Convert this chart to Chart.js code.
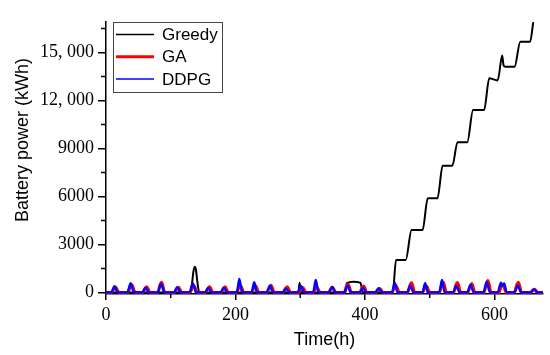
<!DOCTYPE html>
<html lang="en">
  <head>
    <meta charset="UTF-8" />
    <title>Battery power over time</title>
    <style>
      html,
      body {
        margin: 0;
        padding: 0;
        background: #ffffff;
      }
      #chart {
        display: block;
      }
    </style>
  </head>

  <body>
    <canvas id="chart" width="550" height="355"></canvas>

    <script src="https://cdn.jsdelivr.net/npm/chart.js@4.4.1/dist/chart.umd.min.js"></script>

    <script>
      // series (hours, kWh)
      var greedyTime = [
        0, 130, 133, 135, 137, 139, 141, 144, 297, 299, 301, 370, 372, 382,
        393, 397, 443, 448, 463, 472, 489, 497, 512, 520, 535, 543, 558, 567,
        584, 592, 605, 612, 614, 617, 631, 640, 655, 660,
      ];
      var greedyPower = [
        0, 0, 600, 1300, 1610, 1400, 700, 0, 0, 600, 0, 0, 580, 670, 600, 0,
        0, 2030, 2030, 3900, 3900, 5880, 5880, 7920, 7920, 9390, 9390, 11400,
        11400, 13380, 13250, 14800, 14200, 14100, 14100, 15670, 15670, 16890,
      ];

      var gaTime = [
        0, 9, 12, 15, 20, 34, 37, 40, 45, 57, 60, 63, 68, 80, 83, 86, 91, 106,
        109, 112, 117, 130, 133, 136, 141, 154, 157, 160, 165, 178, 181, 184,
        189, 202, 205, 208, 213, 225, 228, 231, 236, 249, 252, 255, 260, 274,
        277, 280, 285, 298, 301, 304, 309, 320, 323, 326, 331, 344, 347, 350,
        355, 368, 371, 374, 379, 392, 395, 398, 403, 417, 420, 423, 428, 442,
        445, 448, 453, 466, 469, 472, 477, 489, 492, 495, 500, 515, 518, 521,
        526, 537, 540, 543, 548, 559, 562, 565, 570, 584, 587, 590, 595, 607,
        610, 613, 618, 631, 634, 637, 642, 656, 659, 662, 667, 675,
      ];
      var gaPower = [
        0, 0, 220, 330, 0, 0, 320, 480, 0, 0, 240, 360, 0, 0, 420, 640, 0, 0,
        210, 320, 0, 0, 280, 420, 0, 0, 230, 350, 0, 0, 240, 360, 0, 0, 280,
        420, 0, 0, 280, 420, 0, 0, 300, 450, 0, 0, 240, 360, 0, 0, 200, 300,
        0, 0, 200, 300, 0, 0, 210, 320, 0, 0, 350, 530, 0, 0, 260, 400, 0, 0,
        170, 250, 0, 0, 280, 420, 0, 0, 400, 600, 0, 0, 260, 400, 0, 0, 420,
        640, 0, 0, 410, 625, 0, 0, 360, 550, 0, 0, 490, 740, 0, 0, 330, 500,
        0, 0, 420, 640, 0, 0, 130, 200, 0, 0,
      ];

      var ddpgTime = [
        0, 8, 11, 13, 18, 33, 36, 38, 43, 56, 59, 61, 66, 80, 83, 85, 90, 105,
        108, 110, 115, 129, 132, 134, 139, 153, 156, 158, 163, 177, 180, 182,
        187, 202, 204, 206, 210, 225, 227, 229, 233, 248, 251, 253, 258, 273,
        276, 278, 283, 296, 299, 301, 306, 320, 322, 324, 328, 344, 347, 349,
        354, 368, 371, 373, 378, 392, 395, 397, 402, 416, 419, 421, 426, 442,
        444, 446, 450, 465, 468, 470, 475, 489, 491, 493, 497, 515, 517, 519,
        523, 536, 539, 541, 546, 558, 561, 563, 568, 583, 586, 588, 593, 605,
        608, 610, 612, 615, 619, 631, 634, 636, 641, 656, 659, 661, 666, 675,
      ];
      var ddpgPower = [
        0, 0, 230, 380, 0, 0, 350, 580, 0, 0, 180, 300, 0, 0, 330, 550, 0, 0,
        200, 330, 0, 0, 340, 560, 0, 0, 170, 280, 0, 0, 180, 300, 0, 0, 400,
        840, 0, 0, 330, 640, 0, 0, 250, 420, 0, 0, 150, 250, 0, 0, 240, 400,
        0, 0, 380, 780, 0, 0, 200, 340, 0, 0, 250, 420, 0, 0, 170, 280, 0, 0,
        160, 260, 0, 0, 330, 600, 0, 0, 250, 420, 0, 0, 320, 580, 0, 0, 400,
        780, 0, 0, 240, 400, 0, 0, 280, 460, 0, 0, 400, 650, 0, 0, 380, 600,
        420, 560, 0, 0, 260, 430, 0, 0, 120, 180, 0, 0,
      ];

      var seriesNames = ["Greedy", "GA", "DDPG"];

      var xTicks = [0, 200, 400, 600];
      var xMinorTicks = [100, 300, 500];
      var yTicks = [0, 3000, 6000, 9000, 12000, 15000];
      var yTickLabels = ["0", "3000", "6000", "9000", "12, 000", "15, 000"];
      var yMinorTicks = [1500, 4500, 7500, 10500, 13500, 16500];

      function toPoints(times, values) {
        return times.map(function (t, i) {
          return { x: t, y: values[i] };
        });
      }

      var serifFont = "'Liberation Serif', 'Times New Roman', serif";
      var sansFont = "'Liberation Sans', Arial, sans-serif";

      // minor ticks, boxed legend and the y title
      var extras = {
        id: "extras",
        afterDraw: function (chart) {
          var ctx = chart.ctx;
          var xs = chart.scales.x;
          var ys = chart.scales.y;
          var area = chart.chartArea;

          ctx.save();
          ctx.strokeStyle = "#000";
          ctx.lineWidth = 1.5;
          ctx.beginPath();
          xMinorTicks.forEach(function (v) {
            var px = xs.getPixelForValue(v);
            ctx.moveTo(px, area.bottom);
            ctx.lineTo(px, area.bottom + 4);
          });
          yMinorTicks.forEach(function (v) {
            var py = ys.getPixelForValue(v);
            ctx.moveTo(area.left, py);
            ctx.lineTo(area.left - 5, py);
          });
          ctx.stroke();

          // legend
          var lx = area.left + 7;
          var ly = area.top;
          ctx.fillStyle = "#fff";
          ctx.fillRect(lx, ly, 109, 70);
          ctx.strokeStyle = "#444";
          ctx.lineWidth = 1;
          ctx.strokeRect(lx + 0.5, ly + 0.5, 109, 70);
          ctx.font = "17px " + sansFont;
          ctx.textBaseline = "middle";
          ctx.textAlign = "left";
          chart.data.datasets.forEach(function (ds, i) {
            var ry = ly + 12.5 + i * 22.3;
            ctx.strokeStyle = ds.borderColor;
            ctx.lineWidth = ds.legendWidth;
            ctx.beginPath();
            ctx.moveTo(lx + 3, ry);
            ctx.lineTo(lx + 41, ry);
            ctx.stroke();
            ctx.fillStyle = "#000";
            ctx.fillText(ds.label, lx + 49, ry + 1);
          });

          // y axis title
          ctx.translate(23, 140);
          ctx.rotate(-Math.PI / 2);
          ctx.textAlign = "center";
          ctx.font = "18px " + sansFont;
          ctx.fillStyle = "#000";
          ctx.fillText("Battery power (kWh)", 0, 0);
          ctx.restore();
        },
      };

      var ctx = document.getElementById("chart").getContext("2d");
      var chart = new Chart(ctx, {
        type: "line",
        data: {
          datasets: [
            {
              label: seriesNames[0],
              data: toPoints(greedyTime, greedyPower),
              borderColor: "#000000",
              borderWidth: 2,
              legendWidth: 1.5,
              order: 3,
            },
            {
              label: seriesNames[1],
              data: toPoints(gaTime, gaPower),
              borderColor: "#ff0000",
              borderWidth: 3,
              legendWidth: 3,
              order: 2,
            },
            {
              label: seriesNames[2],
              data: toPoints(ddpgTime, ddpgPower),
              borderColor: "#0000ff",
              borderWidth: 2.4,
              legendWidth: 1.5,
              order: 1,
            },
          ],
        },
        options: {
          responsive: false,
          animation: false,
          layout: { padding: { left: 0, right: 7, top: 22, bottom: 0 } },
          elements: {
            point: { radius: 0 },
            line: { cubicInterpolationMode: "monotone", fill: false },
          },
          plugins: {
            legend: { display: false },
            tooltip: { enabled: false },
          },
          scales: {
            x: {
              type: "linear",
              min: 0,
              max: 675,
              afterBuildTicks: function (scale) {
                scale.ticks = xTicks.map(function (v) {
                  return { value: v };
                });
              },
              afterFit: function (scale) {
                scale.height = 61;
              },
              ticks: {
                color: "#000",
                padding: 4,
                maxRotation: 0,
                font: { family: serifFont, size: 18 },
              },
              grid: {
                drawOnChartArea: false,
                color: "#000",
                tickLength: 6,
                lineWidth: 1.5,
              },
              border: { color: "#000", width: 1.5 },
              title: {
                display: true,
                text: "Time(h)",
                color: "#000",
                font: { family: sansFont, size: 18 },
                padding: { top: 0, bottom: 4 },
              },
            },
            y: {
              min: -100,
              max: 16900,
              afterBuildTicks: function (scale) {
                scale.ticks = yTicks.map(function (v) {
                  return { value: v };
                });
              },
              afterFit: function (scale) {
                scale.width = 106;
              },
              ticks: {
                color: "#000",
                padding: 4,
                font: { family: serifFont, size: 18 },
                callback: function (value, index) {
                  return yTickLabels[index];
                },
              },
              grid: {
                drawOnChartArea: false,
                color: "#000",
                tickLength: 8,
                lineWidth: 1.5,
              },
              border: { color: "#000", width: 1.5 },
            },
          },
        },
        plugins: [extras],
      });
    </script>
  </body>
</html>
